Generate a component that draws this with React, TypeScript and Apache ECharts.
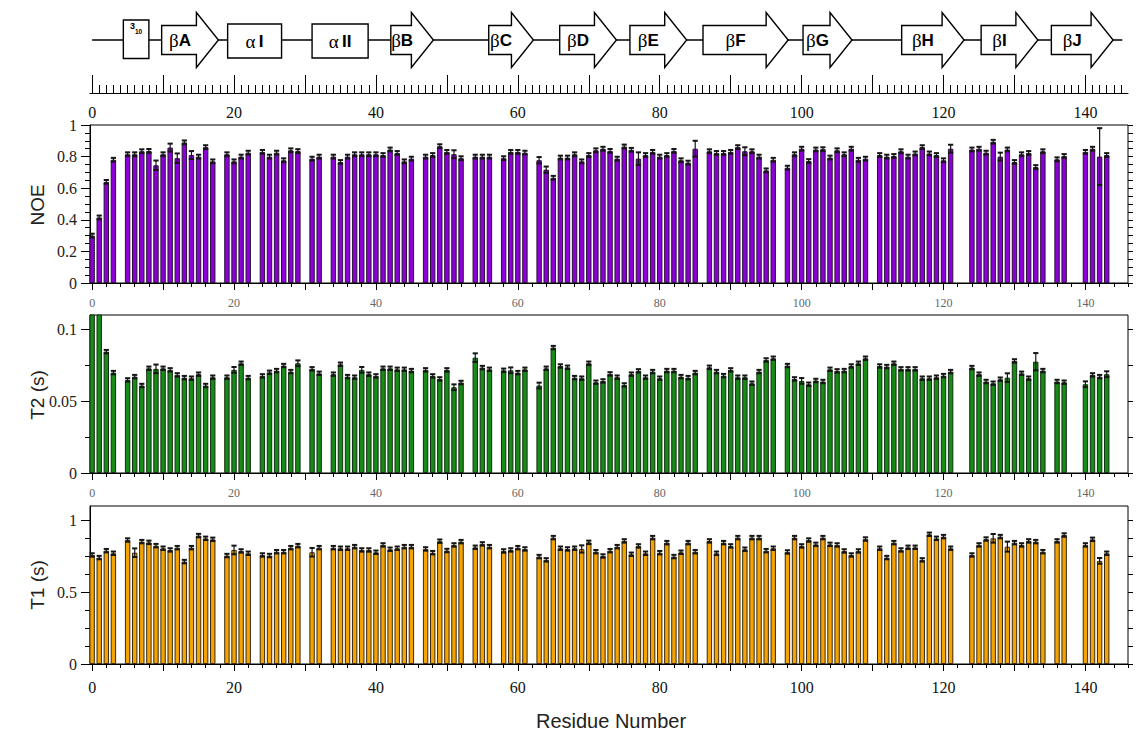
import React, { useEffect, useRef } from "react";
import * as echarts from "echarts";

// ---------------- data ----------------
// residues with measured relaxation data (gaps = prolines / unassigned)
const residues = [
  0, 1, 2, 3,
  5, 6, 7, 8, 9, 10, 11, 12, 13, 14, 15, 16, 17,
  19, 20, 21, 22,
  24, 25, 26, 27, 28, 29,
  31, 32,
  34, 35, 36, 37, 38, 39, 40, 41, 42, 43, 44, 45,
  47, 48, 49, 50, 51, 52,
  54, 55, 56,
  58, 59, 60, 61,
  63, 64, 65, 66, 67, 68, 69, 70, 71, 72, 73, 74, 75, 76, 77, 78, 79, 80, 81, 82, 83, 84, 85,
  87, 88, 89, 90, 91, 92, 93, 94, 95, 96,
  98, 99, 100, 101, 102, 103, 104, 105, 106, 107, 108, 109,
  111, 112, 113, 114, 115, 116, 117, 118, 119, 120, 121,
  124, 125, 126, 127, 128, 129, 130, 131, 132, 133, 134,
  136, 137,
  140, 141, 142, 143,
];

const noe = [
  0.3, 0.415, 0.64, 0.78,
  0.815, 0.815, 0.834, 0.836, 0.745, 0.815, 0.857, 0.79, 0.89, 0.81, 0.8, 0.86, 0.77,
  0.815, 0.77, 0.8, 0.825,
  0.83, 0.8, 0.825, 0.777, 0.84, 0.835,
  0.787, 0.8,
  0.8, 0.766, 0.8, 0.815, 0.815, 0.815, 0.815, 0.81, 0.845, 0.823, 0.77, 0.787,
  0.8, 0.81, 0.866, 0.83, 0.815, 0.79,
  0.8, 0.8, 0.8,
  0.79, 0.83, 0.83, 0.825,
  0.777, 0.717, 0.666, 0.794, 0.794, 0.815, 0.77, 0.81, 0.84, 0.85, 0.836, 0.787, 0.864, 0.843, 0.787, 0.81, 0.83, 0.8, 0.81, 0.836, 0.777, 0.762, 0.85,
  0.834, 0.823, 0.823, 0.83, 0.86, 0.834, 0.834, 0.8, 0.713, 0.78,
  0.73, 0.815, 0.85, 0.772, 0.845, 0.847, 0.794, 0.84, 0.815, 0.85, 0.78, 0.787,
  0.81, 0.8, 0.804, 0.834, 0.8, 0.82, 0.86, 0.82, 0.81, 0.777, 0.85,
  0.845, 0.85, 0.825, 0.894, 0.8, 0.845, 0.766, 0.815, 0.823, 0.734, 0.834,
  0.783, 0.804,
  0.83, 0.85, 0.8, 0.81,
];

const t2 = [
  0.14, 0.125, 0.0845, 0.0699,
  0.0648, 0.0671, 0.0609, 0.0729, 0.0725, 0.0729, 0.0718, 0.0683, 0.0664, 0.066, 0.0688, 0.0609, 0.0667,
  0.0667, 0.0718, 0.0764, 0.0664,
  0.0676, 0.0701, 0.0713, 0.0748, 0.0706, 0.0764,
  0.0725, 0.0694,
  0.0688, 0.0757, 0.0671, 0.0667, 0.0718, 0.0688, 0.0676, 0.0729, 0.0729, 0.0722, 0.0722, 0.0713,
  0.0718, 0.0676, 0.0655, 0.0718, 0.0597, 0.063,
  0.0803, 0.0734, 0.0722,
  0.0715, 0.0715, 0.0699, 0.0722,
  0.0609, 0.0729, 0.0873, 0.0745, 0.0736, 0.0664, 0.066, 0.0764, 0.0632, 0.0641, 0.069, 0.0667, 0.0613, 0.0688, 0.0711, 0.0667, 0.0706, 0.066, 0.0713, 0.0713, 0.0671, 0.0664, 0.0699,
  0.0736, 0.0706, 0.0678, 0.0718, 0.0667, 0.0667, 0.0625, 0.0706, 0.0787, 0.0799,
  0.0748, 0.0655, 0.0641, 0.0618, 0.0644, 0.0637, 0.0722, 0.0711, 0.0713, 0.0745, 0.0764, 0.0799,
  0.0745, 0.0741, 0.0764, 0.0725, 0.0725, 0.0725, 0.066, 0.066, 0.0667, 0.0678, 0.0706,
  0.0734, 0.0688, 0.0637, 0.0625, 0.0653, 0.0664, 0.078, 0.0694, 0.066, 0.0775, 0.0713,
  0.0637, 0.0632,
  0.0618, 0.0683, 0.0671, 0.0688,
];

const t1 = [
  0.759, 0.741, 0.789, 0.771,
  0.863, 0.775, 0.852, 0.847, 0.824, 0.806, 0.794, 0.81, 0.713, 0.81, 0.894, 0.875, 0.868,
  0.755, 0.794, 0.787, 0.771,
  0.759, 0.755, 0.782, 0.782, 0.81, 0.824,
  0.778, 0.81,
  0.81, 0.806, 0.806, 0.817, 0.794, 0.794, 0.778, 0.829, 0.799, 0.806, 0.817, 0.817,
  0.801, 0.775, 0.855, 0.79, 0.829, 0.852,
  0.8125, 0.836, 0.817,
  0.787, 0.794, 0.81, 0.801,
  0.748, 0.725, 0.88, 0.806, 0.801, 0.806, 0.801, 0.847, 0.782, 0.752, 0.789, 0.817, 0.857, 0.764, 0.822, 0.771, 0.88, 0.775, 0.845, 0.748, 0.778, 0.845, 0.782,
  0.857, 0.771, 0.845, 0.822, 0.88, 0.799, 0.88, 0.88, 0.789, 0.806,
  0.78, 0.88, 0.822, 0.863, 0.833, 0.88, 0.833, 0.829, 0.787, 0.759, 0.787, 0.87,
  0.806, 0.741, 0.845, 0.794, 0.8125, 0.8125, 0.725, 0.903, 0.875, 0.887, 0.806,
  0.759, 0.829, 0.87, 0.875, 0.887, 0.817, 0.845, 0.829, 0.857, 0.852, 0.782,
  0.857, 0.898,
  0.829, 0.868, 0.718, 0.771,
];

// uncertainties: typical value plus the residues with larger error bars
const noeErrTypical = 0.012;
const noeErrLarge: Record<number, number> = {
  9: 0.03, 11: 0.025, 12: 0.03, 14: 0.025, 51: 0.025, 63: 0.02, 64: 0.02,
  77: 0.04, 85: 0.05, 92: 0.025, 121: 0.025, 128: 0.025, 142: 0.18,
};
const t2ErrTypical = 0.0012;
const t2ErrLarge: Record<number, number> = {
  0: 0, 1: 0, 9: 0.003, 20: 0.002, 29: 0.002, 38: 0.002, 51: 0.002, 54: 0.003,
  59: 0.002, 63: 0.002, 100: 0.002, 129: 0.003, 133: 0.006, 140: 0.002, 143: 0.002,
};
const t1ErrTypical = 0.012;
const t1ErrLarge: Record<number, number> = {
  6: 0.03, 20: 0.03, 31: 0.03, 69: 0.025, 127: 0.03, 129: 0.035, 142: 0.02,
};

// secondary structure elements (residue ranges)
const ssKind = ["310", "E", "H", "H", "E", "E", "E", "E", "E", "E", "E", "E", "E"];
const ssLabel = ["", "A", "I", "II", "B", "C", "D", "E", "F", "G", "H", "I", "J"];
const ssStart = [4.4, 9.8, 19.1, 31.0, 42.1, 55.9, 65.9, 75.8, 86.1, 100.2, 114.1, 125.3, 135.2];
const ssEnd = [8.0, 17.8, 26.7, 38.9, 48.1, 62.2, 73.9, 83.8, 98.1, 107.1, 122.9, 133.3, 143.9];
const coilExtent = [0, 145.2];

// axis ticks
const X_MIN = -0.3;
const X_MAX = 146;
const xLabelValues = [0, 20, 40, 60, 80, 100, 120, 140];
const xMajorTicks = [0, 10, 20, 30, 40, 50, 60, 70, 80, 90, 100, 110, 120, 130, 140];
const noeLabels = [0, 0.2, 0.4, 0.6, 0.8, 1];
const t2Labels = [0, 0.05, 0.1];
const t1Labels = [0, 0.5, 1];

// ---------------- helpers ----------------
const steps = (a: number, b: number, s: number) => {
  const out: number[] = [];
  for (let k = 0; a + k * s <= b + 1e-9; k++) out.push(Math.round((a + k * s) * 1e6) / 1e6);
  return out;
};

const SERIF = "'Liberation Serif', 'Times New Roman', serif";
const SANS = "'Liberation Sans', Arial, sans-serif";

const NOE_COLOR = "#8a00d6";
const T2_COLOR = "#178a17";
const T1_COLOR = "#f4a300";

const xMain = (gridIndex: number, fontSize: number, color: string, margin: number, inside = false, tickLen = 7) => ({
  type: "value",
  gridIndex,
  position: "bottom",
  min: X_MIN,
  max: X_MAX,
  axisLine: { show: true, onZero: false, lineStyle: { color: "#000", width: 1 } },
  axisTick: { show: true, inside, customValues: xMajorTicks, length: tickLen, lineStyle: { color: "#000", width: 1 } },
  axisLabel: { show: true, customValues: xLabelValues, fontFamily: SERIF, fontSize, color, margin },
  splitLine: { show: false },
});

const xMinor = (gridIndex: number, values: number[], length: number, inside = false) => ({
  type: "value",
  gridIndex,
  position: "bottom",
  min: X_MIN,
  max: X_MAX,
  axisLine: { show: false, onZero: false },
  axisTick: { show: true, inside, customValues: values, length, lineStyle: { color: "#000", width: 1 } },
  axisLabel: { show: false },
  splitLine: { show: false },
});

const yMain = (gridIndex: number, max: number, labels: number[]) => ({
  type: "value",
  gridIndex,
  position: "left",
  min: 0,
  max,
  axisLine: { show: true, onZero: false, lineStyle: { color: "#000", width: 1 } },
  axisTick: { show: true, customValues: labels, length: 9, lineStyle: { color: "#000", width: 1 } },
  axisLabel: { show: true, customValues: labels, fontFamily: SERIF, fontSize: 16, color: "#222", margin: 13, formatter: (v: number) => String(v) },
  splitLine: { show: false },
});

const yTicks = (gridIndex: number, max: number, values: number[], position: string, length: number) => ({
  type: "value",
  gridIndex,
  position,
  min: 0,
  max,
  axisLine: { show: false, onZero: false },
  axisTick: { show: true, customValues: values, length, lineStyle: { color: "#000", width: 1 } },
  axisLabel: { show: false },
  splitLine: { show: false },
});

const barSeries = (xAxisIndex: number, yAxisIndex: number, values: number[], color: string, edge: string, clip: boolean) => ({
  type: "bar",
  xAxisIndex,
  yAxisIndex,
  barWidth: 5.4,
  clip,
  data: residues.map((r, i) => [r, values[i]]),
  itemStyle: { color, borderColor: edge, borderWidth: 1 },
  z: 2,
});

const errSeries = (
  xAxisIndex: number,
  yAxisIndex: number,
  values: number[],
  typical: number,
  large: Record<number, number>,
  yMax: number
) => ({
  type: "custom",
  xAxisIndex,
  yAxisIndex,
  z: 4,
  data: residues.map((r, i) => [r, values[i], large[r] !== undefined ? large[r] : typical]),
  renderItem: (_params: any, api: any) => {
    const x = api.value(0);
    const v = api.value(1);
    const e = api.value(2);
    if (e <= 0 || v + e > yMax) return null;
    const top = api.coord([x, v + e]);
    const bot = api.coord([x, v - e]);
    const hw = 2.6;
    const st = { stroke: "#151515", lineWidth: 1.2 };
    const cap = { stroke: "#151515", lineWidth: 2 };
    return {
      type: "group",
      children: [
        { type: "line", shape: { x1: top[0], y1: top[1], x2: bot[0], y2: bot[1] }, style: st },
        { type: "line", shape: { x1: top[0] - hw, y1: top[1], x2: top[0] + hw, y2: top[1] }, style: cap },
        { type: "line", shape: { x1: bot[0] - hw, y1: bot[1], x2: bot[0] + hw, y2: bot[1] }, style: cap },
      ],
    };
  },
});

const ssRich = {
  g: { fontFamily: SERIF, fontSize: 19, fill: "#000" },
  b: { fontFamily: SANS, fontWeight: "bold", fontSize: 17, fill: "#000" },
  s: { fontFamily: SANS, fontWeight: "bold", fontSize: 9, fill: "#000", verticalAlign: "top", lineHeight: 13 },
  t: { fontFamily: SANS, fontWeight: "bold", fontSize: 6.5, fill: "#000", verticalAlign: "bottom", lineHeight: 13 },
};

const renderStructure = (params: any, api: any) => {
  const i = params.dataIndex;
  const p0 = api.coord([ssStart[i], 0]);
  const p1 = api.coord([ssEnd[i], 0]);
  const x0 = p0[0];
  const x1 = p1[0];
  const yc = p0[1];
  const kind = ssKind[i];
  const outline = { fill: "#fff", stroke: "#000", lineWidth: 1.4 };
  if (kind === "E") {
    const head = 22;
    const bh = 14.5;
    const hh = 27.5;
    const xb = x1 - head;
    return {
      type: "group",
      children: [
        {
          type: "polygon",
          shape: { points: [[x0, yc - bh], [xb, yc - bh], [xb, yc - hh], [x1, yc], [xb, yc + hh], [xb, yc + bh], [x0, yc + bh]] },
          style: outline,
        },
        {
          type: "text",
          x: (x0 + xb) / 2 + 1,
          y: yc + 0.5,
          style: { text: `{g|β}{b|${ssLabel[i]}}`, rich: ssRich, align: "center", verticalAlign: "middle" },
        },
      ],
    };
  }
  if (kind === "H") {
    return {
      type: "group",
      children: [
        { type: "rect", shape: { x: x0, y: yc - 16, width: x1 - x0, height: 34 }, style: outline },
        {
          type: "text",
          x: (x0 + x1) / 2,
          y: yc + 1,
          style: { text: `{g|α} {b|${ssLabel[i]}}`, rich: ssRich, align: "center", verticalAlign: "middle" },
        },
      ],
    };
  }
  // 3-10 helix
  return {
    type: "group",
    children: [
      { type: "rect", shape: { x: x0, y: yc - 20, width: x1 - x0, height: 38.5 }, style: outline },
      {
        type: "text",
        x: (x0 + x1) / 2,
        y: yc - 12,
        style: { text: "{s|3}{t|10}", rich: ssRich, align: "center", verticalAlign: "middle" },
      },
    ],
  };
};

const GRID_LEFT = 90;
const GRID_RIGHT = 9;

export default function App() {
  const ref = useRef<HTMLDivElement>(null);

  useEffect(() => {
    if (!ref.current) return;
    const chart = echarts.init(ref.current, undefined, { renderer: "svg" });

    const option: any = {
      animation: false,
      backgroundColor: "#fff",
      grid: [
        { left: GRID_LEFT, right: GRID_RIGHT, top: 0, height: 93, show: false },
        { left: GRID_LEFT, right: GRID_RIGHT, top: 125, height: 158, show: true, borderColor: "#000", borderWidth: 1, backgroundColor: "transparent" },
        { left: GRID_LEFT, right: GRID_RIGHT, top: 315, height: 158, show: true, borderColor: "#000", borderWidth: 1, backgroundColor: "transparent" },
        { left: GRID_LEFT, right: GRID_RIGHT, top: 506, height: 158, show: true, borderColor: "#000", borderWidth: 1, backgroundColor: "transparent" },
      ],
      xAxis: [
        xMain(0, 16, "#111", 11, true, 18),
        xMinor(0, steps(0, 145, 1), 8, true),
        xMain(1, 12, "#666", 14),
        xMinor(1, steps(0, 146, 2), 4),
        xMain(2, 12, "#666", 14),
        xMinor(2, steps(0, 146, 2), 4),
        xMain(3, 16, "#111", 15),
        xMinor(3, steps(0, 146, 2), 4),
      ],
      yAxis: [
        { type: "value", gridIndex: 0, min: -53, max: 40, show: false },
        yMain(1, 1, noeLabels),
        yTicks(1, 1, steps(0, 1, 0.05), "left", 5),
        yTicks(1, 1, steps(0, 1, 0.05), "right", 5),
        yMain(2, 0.11, t2Labels),
        yTicks(2, 0.11, steps(0, 0.1, 0.025), "left", 5),
        yTicks(2, 0.11, steps(0, 0.1, 0.025), "right", 5),
        yMain(3, 1.1, t1Labels),
        yTicks(3, 1.1, steps(0, 1, 0.125), "left", 5),
        yTicks(3, 1.1, steps(0, 1, 0.125), "right", 5),
      ],
      series: [
        {
          type: "line",
          xAxisIndex: 0,
          yAxisIndex: 0,
          data: [[coilExtent[0], 0], [coilExtent[1], 0]],
          symbol: "none",
          lineStyle: { color: "#000", width: 1.5 },
          z: 1,
        },
        {
          type: "custom",
          xAxisIndex: 0,
          yAxisIndex: 0,
          data: ssStart.map((s, i) => [s, ssEnd[i]]),
          encode: { x: [0, 1] },
          renderItem: renderStructure,
          z: 3,
        },
        barSeries(2, 1, noe, NOE_COLOR, "#2b1038", false),
        errSeries(2, 1, noe, noeErrTypical, noeErrLarge, 1),
        barSeries(4, 4, t2, T2_COLOR, "#123012", true),
        errSeries(4, 4, t2, t2ErrTypical, t2ErrLarge, 0.11),
        barSeries(6, 7, t1, T1_COLOR, "#3b2a10", false),
        errSeries(6, 7, t1, t1ErrTypical, t1ErrLarge, 1.1),
      ],
      graphic: [
        {
          type: "text",
          x: 37,
          y: 205,
          rotation: Math.PI / 2,
          style: { text: "NOE", fontFamily: SANS, fontSize: 19, fill: "#222", align: "center", verticalAlign: "middle" },
        },
        {
          type: "text",
          x: 37,
          y: 395,
          rotation: Math.PI / 2,
          style: { text: "T2 (s)", fontFamily: SANS, fontSize: 19, fill: "#222", align: "center", verticalAlign: "middle" },
        },
        {
          type: "text",
          x: 37,
          y: 585,
          rotation: Math.PI / 2,
          style: { text: "T1 (s)", fontFamily: SANS, fontSize: 19, fill: "#222", align: "center", verticalAlign: "middle" },
        },
        {
          type: "text",
          x: 611,
          y: 721,
          style: { text: "Residue Number", fontFamily: SANS, fontSize: 20, fill: "#222", align: "center", verticalAlign: "middle" },
        },
      ],
    };

    chart.setOption(option);
    return () => chart.dispose();
  }, []);

  return (
    <div
      ref={ref}
      style={{ position: "absolute", left: 0, top: 0, width: 1137, height: 736, background: "#fff" }}
    />
  );
}
